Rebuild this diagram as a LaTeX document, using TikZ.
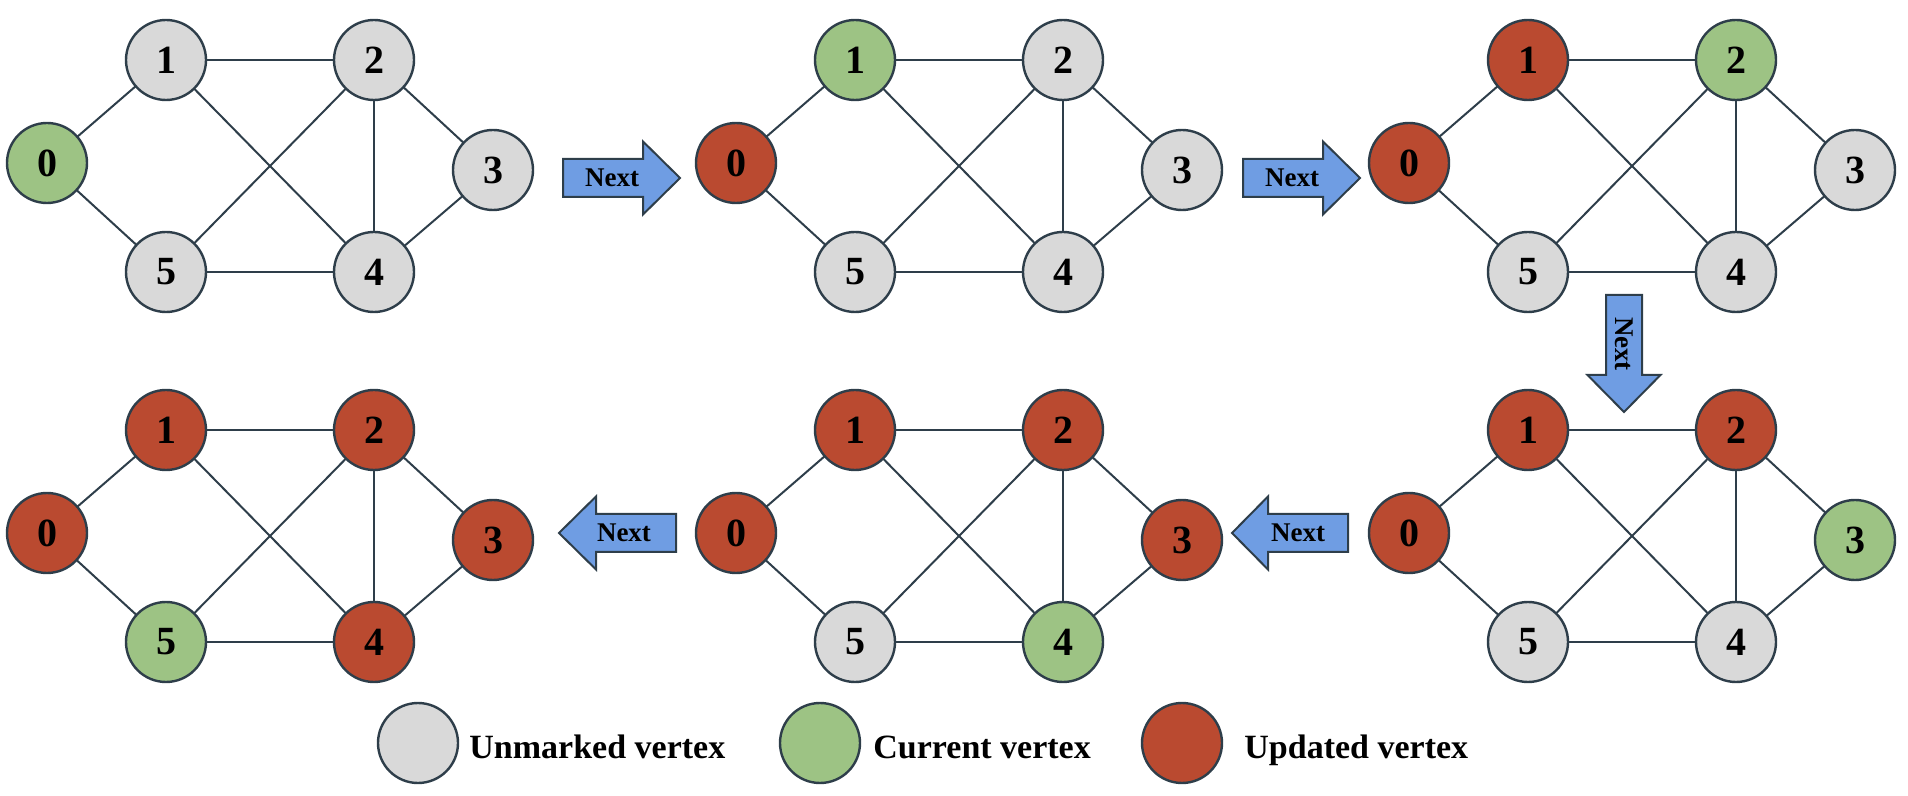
\documentclass[tikz,border=0pt]{standalone}
\usepackage{fontspec}
\setmainfont{Liberation Serif}
\definecolor{cU}{HTML}{D9D9D9}
\definecolor{cG}{HTML}{9DC384}
\definecolor{cR}{HTML}{BA4A30}
\definecolor{ablue}{HTML}{6F9DE3}
\definecolor{strokec}{HTML}{2E3E4A}
\tikzset{
  vtx/.style={circle, draw=strokec, line width=1.2pt, inner sep=0pt, outer sep=0pt,
    font=\fontsize{20}{20}\selectfont\bfseries},
  edge/.style={draw=strokec, line width=1pt},
  arrowbody/.style={fill=ablue, draw=strokec, line width=1pt, line join=miter},
  nexttxt/.style={font=\fontsize{13.5}{13.5}\selectfont\bfseries, inner sep=0pt},
  legtxt/.style={font=\fontsize{17}{17}\selectfont\bfseries, anchor=base west, inner sep=0pt}
}
\newcommand\gpanel[6]{%
  \foreach \c [count=\i from 0] in {#6} {
    \pgfmathsetmacro\dx{{-119,0,208,327,208,0}[\i]*#4}
    \pgfmathsetmacro\dy{{103,0,0,110,212,212}[\i]}
    \node[vtx, fill=\c, minimum size=#5pt] (#1\i) at ({#2+\dx},{#3+\dy}) {\i};
  }
  \foreach \a/\b in {0/1,0/5,1/2,1/4,2/5,2/4,2/3,3/4,5/4}
    \draw[edge] (#1\a) -- (#1\b);
}
\begin{document}
\begin{tikzpicture}[x=0.5pt, y=-0.5pt]
\useasboundingbox (0,0) rectangle (1908,796);
% row 1
\gpanel{a}{166}{60}{1}{40}{cG,cU,cU,cU,cU,cU}
\gpanel{b}{855}{60}{1}{40}{cR,cG,cU,cU,cU,cU}
\gpanel{c}{1528}{60}{1}{40}{cR,cR,cG,cU,cU,cU}
% row 2
\gpanel{d}{166}{430}{1}{40}{cR,cR,cR,cR,cR,cG}
\gpanel{e}{855}{430}{1}{40}{cR,cR,cR,cR,cG,cU}
\gpanel{f}{1528}{430}{1}{40}{cR,cR,cR,cG,cU,cU}
% arrows
\draw[arrowbody] (563,159) -- (643,159) -- (643,141.5) -- (680,178) -- (643,214.5) -- (643,197) -- (563,197) -- cycle;
\node[nexttxt] (n1) at (612,178) {Next};
\draw[arrowbody] (1243,159) -- (1323,159) -- (1323,141.5) -- (1360,178) -- (1323,214.5) -- (1323,197) -- (1243,197) -- cycle;
\node[nexttxt] (n2) at (1292,178) {Next};
\draw[arrowbody] (1606,295) -- (1642,295) -- (1642,375) -- (1660.5,375) -- (1624,412) -- (1587.5,375) -- (1606,375) -- cycle;
\node[nexttxt, rotate=-90] (n3) at (1624,344) {Next};
\draw[arrowbody] (1348,514) -- (1268,514) -- (1268,496.5) -- (1232,533) -- (1268,569.5) -- (1268,552) -- (1348,552) -- cycle;
\node[nexttxt] (n4) at (1298,533) {Next};
\draw[arrowbody] (676,514) -- (596,514) -- (596,496.5) -- (559,533) -- (596,569.5) -- (596,552) -- (676,552) -- cycle;
\node[nexttxt] (n5) at (624,533) {Next};
% legend
\node[vtx, fill=cU, minimum size=40pt] (lu) at (418,743) {};
\node[legtxt] (lut) at (469,758) {Unmarked vertex};
\node[vtx, fill=cG, minimum size=40pt] (lg) at (820,743) {};
\node[legtxt] (lgt) at (873,758) {Current vertex};
\node[vtx, fill=cR, minimum size=40pt] (lr) at (1182,743) {};
\node[legtxt] (lrt) at (1244,758) {Updated vertex};
\end{tikzpicture}
\end{document}
